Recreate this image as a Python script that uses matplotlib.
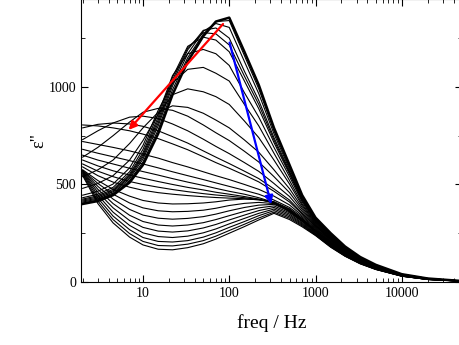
import matplotlib
matplotlib.use('Agg')
import matplotlib.pyplot as plt
from matplotlib.ticker import FixedLocator, LogLocator, NullFormatter, FuncFormatter

plt.rcParams['font.family'] = ['Liberation Serif', 'DejaVu Serif']

# frecuencias (Hz)
freq = [2, 3, 4.5, 7, 10, 15, 22, 33, 50, 70, 100, 150, 220, 330, 500, 700,
        1000, 1500, 2200, 3300, 5000, 10000, 20000, 47000]

# curva de maximo (trazo grueso)
top_curve = [400, 415, 445, 510, 600, 760, 960, 1130, 1260, 1335, 1355, 1180,
             1010, 790, 600, 445, 330, 250, 182, 128, 88, 40, 18, 6]

# serie de la flecha roja: el pico baja y se mueve a baja frecuencia
red_set = [
    [405, 420, 450, 520, 615, 780, 985, 1150, 1270, 1335, 1340, 1160, 990, 775, 588, 440, 327, 247, 180, 126, 87, 40, 18, 6],
    [410, 425, 455, 530, 630, 800, 1005, 1170, 1285, 1325, 1305, 1130, 965, 760, 578, 433, 323, 244, 178, 125, 86, 39, 18, 6],
    [415, 430, 462, 538, 642, 815, 1020, 1190, 1290, 1302, 1250, 1080, 930, 740, 568, 427, 319, 241, 176, 124, 85, 39, 18, 6],
    [420, 436, 468, 545, 652, 830, 1035, 1200, 1278, 1272, 1215, 1055, 910, 728, 560, 422, 316, 239, 175, 123, 85, 39, 18, 6],
    [425, 442, 475, 553, 663, 845, 1050, 1208, 1255, 1240, 1180, 1030, 888, 715, 553, 417, 313, 237, 173, 122, 84, 39, 17, 6],
    [432, 450, 485, 565, 680, 862, 1058, 1170, 1192, 1170, 1110, 970, 845, 690, 540, 410, 309, 234, 171, 121, 83, 38, 17, 6],
    [445, 465, 502, 585, 700, 880, 1020, 1090, 1100, 1070, 1030, 910, 800, 660, 520, 400, 305, 231, 169, 120, 83, 38, 17, 6],
    [480, 505, 545, 625, 725, 860, 960, 990, 975, 950, 910, 825, 740, 625, 502, 392, 301, 228, 167, 118, 82, 38, 17, 6],
    [540, 575, 625, 710, 790, 870, 903, 895, 865, 830, 790, 728, 665, 575, 478, 382, 297, 225, 165, 117, 81, 37, 17, 6],
    [640, 690, 750, 820, 870, 890, 880, 850, 805, 765, 725, 670, 615, 540, 458, 372, 293, 222, 163, 116, 80, 37, 17, 6],
    [730, 775, 815, 845, 850, 838, 810, 775, 732, 695, 658, 612, 567, 505, 438, 362, 290, 219, 161, 115, 79, 36, 16, 6],
    [790, 808, 815, 810, 798, 775, 745, 712, 672, 640, 607, 568, 530, 477, 420, 353, 287, 216, 159, 114, 78, 36, 16, 6],
    [805, 800, 790, 775, 758, 735, 708, 678, 642, 612, 583, 548, 513, 465, 410, 348, 285, 214, 158, 113, 78, 36, 16, 6],
]

# serie de la flecha azul: curvas que bajan hasta formar el minimo y el pico en ~300 Hz
blue_set = [
    [720, 705, 690, 672, 655, 635, 612, 590, 565, 545, 525, 500, 475, 440, 395, 340, 280, 210, 155, 110, 76, 35, 16, 6],
    [680, 660, 642, 622, 605, 585, 565, 545, 525, 508, 490, 470, 450, 420, 382, 333, 276, 207, 153, 109, 75, 35, 16, 6],
    [650, 625, 605, 583, 566, 548, 530, 512, 495, 480, 465, 450, 432, 408, 372, 326, 272, 204, 151, 107, 74, 34, 15, 6],
    [625, 595, 570, 548, 532, 515, 500, 485, 472, 460, 450, 438, 425, 405, 366, 320, 268, 201, 149, 106, 73, 34, 15, 6],
    [605, 568, 540, 515, 500, 486, 474, 463, 453, 446, 440, 432, 423, 407, 362, 316, 264, 198, 147, 105, 72, 33, 15, 6],
    [590, 545, 512, 486, 470, 458, 450, 443, 437, 433, 430, 427, 421, 408, 360, 312, 260, 195, 145, 104, 71, 33, 15, 5],
    [575, 520, 475, 440, 418, 405, 400, 401, 405, 411, 420, 425, 422, 412, 375, 325, 262, 196, 144, 102, 70, 32, 14, 5],
    [572, 505, 450, 405, 380, 365, 360, 362, 368, 378, 392, 403, 408, 402, 368, 320, 258, 194, 142, 101, 69, 32, 14, 5],
    [570, 490, 425, 372, 343, 327, 322, 326, 335, 348, 365, 382, 394, 398, 362, 315, 255, 191, 140, 100, 68, 31, 14, 5],
    [567, 475, 402, 342, 310, 292, 287, 292, 304, 320, 340, 362, 380, 390, 355, 309, 251, 188, 138, 99, 67, 31, 14, 5],
    [564, 460, 380, 315, 280, 261, 256, 262, 277, 295, 318, 343, 366, 382, 348, 303, 248, 186, 136, 97, 66, 31, 13, 5],
    [560, 445, 358, 290, 252, 233, 228, 235, 252, 272, 298, 326, 352, 374, 341, 298, 245, 184, 135, 96, 66, 30, 13, 5],
    [556, 430, 338, 268, 228, 208, 205, 212, 230, 252, 280, 310, 340, 366, 334, 293, 242, 182, 134, 95, 65, 30, 13, 5],
    [550, 415, 320, 248, 208, 187, 185, 194, 212, 235, 264, 296, 328, 358, 327, 288, 240, 180, 133, 94, 65, 30, 13, 5],
    [545, 402, 303, 230, 190, 168, 165, 176, 196, 220, 250, 284, 318, 352, 320, 283, 238, 178, 132, 93, 64, 30, 13, 5],
]

fig = plt.figure(figsize=(4.6, 3.45), dpi=100)
ax = fig.add_axes([0.176, 0.1826, 0.828, 0.82])

for c in red_set:
    ax.plot(freq, c, color='black', lw=0.8)
for c in blue_set:
    ax.plot(freq, c, color='black', lw=0.8)
ax.plot(freq, top_curve, color='black', lw=1.8)

# flechas
ax.annotate('', xy=(6.5, 769), xytext=(89, 1333),
            arrowprops=dict(arrowstyle='-|>', color='red', lw=1.6, mutation_scale=12))
ax.annotate('', xy=(312, 385), xytext=(99, 1241),
            arrowprops=dict(arrowstyle='-|>', color='blue', lw=1.6, mutation_scale=12))

ax.set_xscale('log')
ax.set_xlim(1.91, 49700)
ax.set_ylim(0, 1450)

ax.xaxis.set_major_locator(FixedLocator([10, 100, 1000, 10000]))
ax.xaxis.set_major_formatter(FuncFormatter(lambda v, p: f'{int(v)}'))
ax.xaxis.set_minor_locator(LogLocator(base=10, subs=range(2, 10), numticks=20))
ax.xaxis.set_minor_formatter(NullFormatter())
ax.set_yticks([0, 500, 1000])
ax.yaxis.set_minor_locator(FixedLocator([250, 750, 1250]))

ax.tick_params(which='both', direction='in', top=True, right=True, labelsize=10)
ax.tick_params(which='major', length=5)
ax.tick_params(which='minor', length=3)

ax.set_xlabel('freq / Hz', fontsize=14, labelpad=10)
ax.set_ylabel('ε"', fontsize=13, labelpad=1)

fig.savefig('out.png', dpi=100)
